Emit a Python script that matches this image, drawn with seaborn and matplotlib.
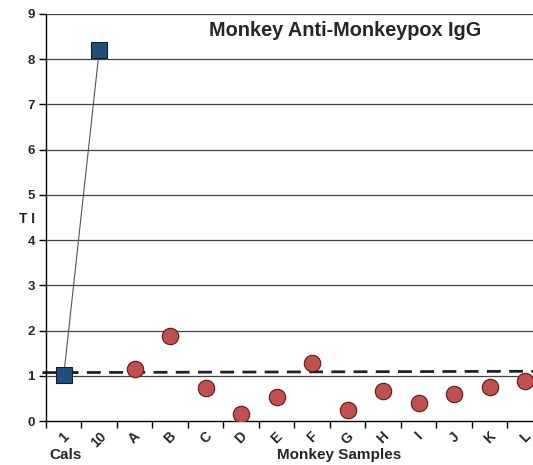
import matplotlib
matplotlib.use("Agg")
import matplotlib.pyplot as plt
import seaborn as sns
import pandas as pd
from matplotlib.transforms import blended_transform_factory

cal_labels = ["1", "10"]
cal_values = [1.01, 8.2]
sample_labels = ["A", "B", "C", "D", "E", "F", "G", "H", "I", "J", "K", "L"]
sample_values = [1.15, 1.88, 0.72, 0.16, 0.53, 1.29, 0.25, 0.67, 0.40, 0.59, 0.76, 0.88]
cutoff = [1.07, 1.10]
y_ticks = [0, 1, 2, 3, 4, 5, 6, 7, 8, 9]

sns.set_theme(style="white")
plt.rcParams['font.family'] = ['Liberation Sans', 'DejaVu Sans']

fig = plt.figure(figsize=(5.33, 4.65), dpi=100)
ax = fig.add_axes([46/533, 44/465, 1 - 46/533, (421-14)/465])

all_labels = cal_labels + sample_labels
pos = {c: i for i, c in enumerate(all_labels)}
cal_df = pd.DataFrame({"x": [pos[c] for c in cal_labels], "y": cal_values})
smp_df = pd.DataFrame({"x": [pos[c] for c in sample_labels], "y": sample_values})

for yv in y_ticks[1:]:
    ax.axhline(yv, color="#444444", lw=0.9, zorder=0)

ax.plot([-0.6, 13.3], cutoff, color="#222222", lw=2, ls=(0, (5, 3)), zorder=1, clip_on=False)

sns.lineplot(data=cal_df, x="x", y="y", ax=ax, color="#555555", lw=0.8, zorder=2)
sns.scatterplot(data=cal_df, x="x", y="y", ax=ax, marker="s", s=130,
                color="#1F4E79", edgecolor="#0d1f33", linewidth=0.8, zorder=3)
sns.scatterplot(data=smp_df, x="x", y="y", ax=ax, marker="o", s=140,
                color="#C0504D", edgecolor="#5a1a18", linewidth=0.8, zorder=3)

ax.set_yticks(y_ticks)
ax.set_yticklabels([str(v) for v in y_ticks], fontsize=9.5, fontweight="bold")
ax.set_xticks(range(len(all_labels)))
ax.set_xticklabels(all_labels, rotation=45, fontsize=10, fontweight="bold", ha="center")
ax.set_xticks([i - 0.5 for i in range(len(all_labels) + 1)], minor=True)
ax.set_xlim(-0.5, 13.22)
ax.set_ylim(0, 9)
ax.tick_params(axis="x", which="major", length=0, pad=6)
ax.tick_params(axis="x", which="minor", length=5, width=1, color="black", direction="out", bottom=True)
ax.tick_params(axis="y", length=5, width=1, color="black", direction="out", left=True, pad=3)
ax.set_xlabel("")
ax.set_ylabel("T I", rotation=0, fontsize=10, fontweight="bold", labelpad=8)
ax.yaxis.set_label_coords(-0.04, 0.48)

for sp in ["top", "right"]:
    ax.spines[sp].set_visible(False)
for sp in ["left", "bottom"]:
    ax.spines[sp].set_color("black")
    ax.spines[sp].set_linewidth(1)

trans = blended_transform_factory(ax.transData, fig.transFigure)
ax.text(0.05, 10/465, "Cals", transform=trans, ha="center", va="center", fontsize=11, fontweight="bold")
ax.text(7.75, 10/465, "Monkey Samples", transform=trans, ha="center", va="center", fontsize=11, fontweight="bold")
ax.text(345/533, 1 - 31/465, "Monkey Anti-Monkeypox IgG", transform=fig.transFigure,
        ha="center", va="center", fontsize=14.3, fontweight="bold")

fig.savefig("out.png", dpi=100)
